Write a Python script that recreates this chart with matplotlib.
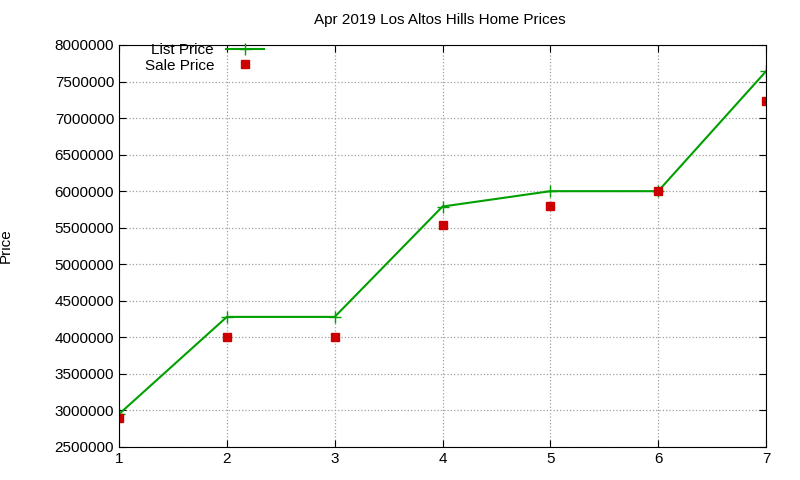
import matplotlib
matplotlib.use("Agg")
import matplotlib.pyplot as plt

months = [1, 2, 3, 4, 5, 6, 7]
list_price = [2950000, 4280000, 4280000, 5790000, 6000000, 6000000, 7640000]
sale_price = [2900000, 4000000, 4000000, 5540000, 5800000, 6000000, 7240000]
yticks = list(range(2500000, 8000001, 500000))

plt.rcParams['font.family'] = ['Liberation Sans', 'DejaVu Sans']
fig = plt.figure(figsize=(8, 4.8), dpi=100)
ax = fig.add_axes([119/800, 1-447/480, (766-119)/800, (447-45)/480])
ax.plot(months, list_price, color='#00a000', marker='+', markersize=8, linewidth=1.5, label='List Price')
ax.plot(months, sale_price, color='#cc0000', marker='s', markersize=6, linestyle='none', label='Sale Price')
ax.set_xlim(1, 7)
ax.set_ylim(2500000, 8000000)
ax.set_xticks(months)
ax.set_yticks(yticks)
ax.set_yticklabels([str(v) for v in yticks])
ax.tick_params(direction='in', top=True, right=True, labelsize=11, length=5)
ax.grid(True, color='#a0a0a0', linestyle=':', linewidth=0.9)
ax.set_ylabel('Price', fontsize=11, labelpad=30)
fig.text(0.55, 1-20/480, 'Apr 2019 Los Altos Hills Home Prices', ha='center', va='center', fontsize=11)
leg = ax.legend(loc='upper left', bbox_to_anchor=(0.03, 1.02), frameon=False, markerfirst=False,
                fontsize=11, handlelength=2.5, borderaxespad=0, labelspacing=0.1)
for t in leg.get_texts():
    t.set_ha('right')
fig.savefig('out.png', dpi=100)
